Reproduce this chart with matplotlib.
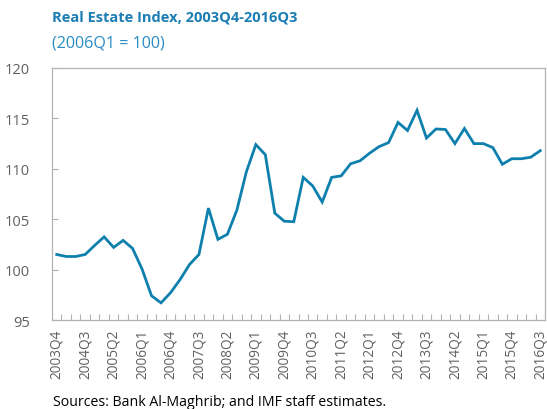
import matplotlib
matplotlib.use("Agg")
import matplotlib.pyplot as plt
from matplotlib.ticker import MultipleLocator

plt.rcParams['font.family'] = ['Open Sans', 'DejaVu Sans']

# ── Data ─────────────────────────────────────────────────────────
years = list(range(2003, 2017))
quarters = [f"{y}Q{q}" for y in years for q in range(1, 5)]
quarters = quarters[quarters.index("2003Q4"):quarters.index("2016Q3") + 1]

index_vals = [
    101.5, 101.3, 101.3, 101.5, 102.4, 103.25, 102.2, 102.9, 102.1, 100.05,
    97.4, 96.7, 97.7, 99.0, 100.5, 101.5, 106.1, 103.0, 103.5, 105.9,
    109.7, 112.4, 111.4, 105.6, 104.8, 104.75, 109.15, 108.3, 106.7, 109.15,
    109.3, 110.5, 110.8, 111.55, 112.2, 112.6, 114.6, 113.8, 115.8, 113.05,
    113.95, 113.9, 112.5, 114.0, 112.5, 112.5, 112.1, 110.45, 111.0, 111.0,
    111.15, 111.8,
]

line_color = '#0e80ad'
frame_color = '#b3b3b3'
tick_text = '#606060'

fig = plt.figure(figsize=(5.47, 4.10), dpi=100)
ax = fig.add_axes([52 / 547, 1 - 321 / 410, 493 / 547, 252 / 410])

x = list(range(len(quarters)))
ax.plot(x, index_vals, color=line_color, lw=2.0, solid_joinstyle='miter')

ax.set_xlim(-0.5, len(quarters) - 0.5)
ax.set_ylim(95, 120)
ax.yaxis.set_major_locator(MultipleLocator(5))

# category labels every 3rd quarter, tick marks between categories
ax.set_xticks(x[::3])
ax.set_xticklabels(quarters[::3], rotation=90, color=tick_text, fontsize=9.8)
ax.set_xticks([i + 0.5 for i in x[:-1]], minor=True)
ax.tick_params(axis='x', which='major', length=0, pad=6)
ax.tick_params(axis='x', which='minor', direction='in', length=4,
               color=frame_color, width=0.8)
ax.tick_params(axis='y', direction='in', length=4, color=frame_color,
               width=0.8, labelcolor=tick_text, labelsize=10.5, pad=16)
for lbl in ax.get_yticklabels():
    lbl.set_horizontalalignment('right')

for s in ax.spines.values():
    s.set_color(frame_color)
    s.set_linewidth(0.9)

fig.text(52 / 547, 1 - 18 / 410, "Real Estate Index, 2003Q4-2016Q3",
         color='#1b7db3', fontsize=10.5, fontweight='bold', va='center')
fig.text(52 / 547, 1 - 44 / 410, "(2006Q1 = 100)",
         color='#2a8cc4', fontsize=11.6, va='center')
fig.text(53 / 547, 1 - 403 / 410, "Sources: Bank Al-Maghrib; and IMF staff estimates.",
         color='black', fontsize=10.2, va='center')

fig.savefig("out.png", dpi=100)
